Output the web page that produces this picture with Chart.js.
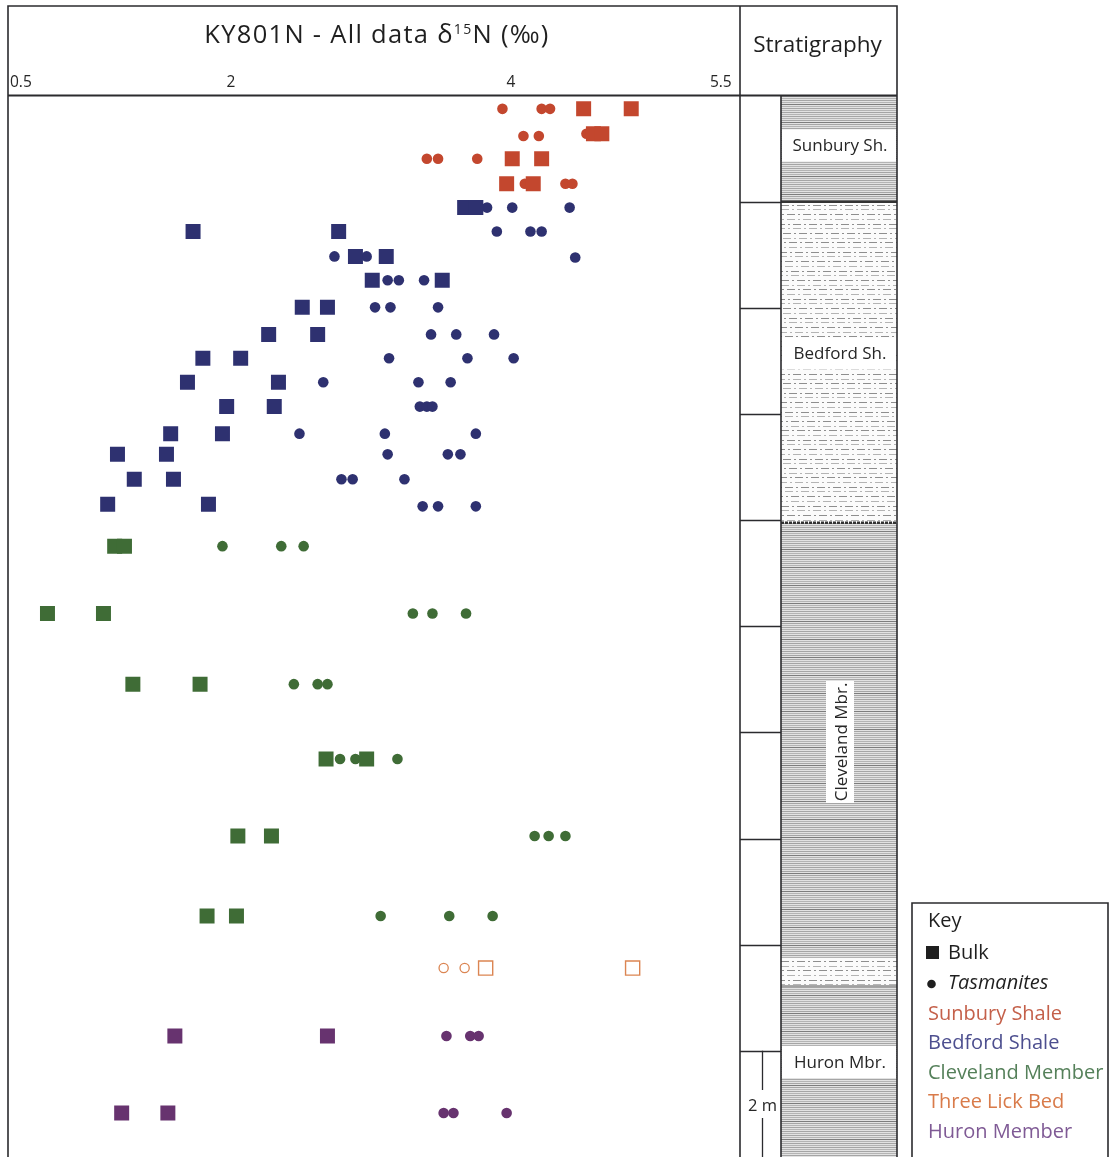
<!DOCTYPE html>
<html>
<head>
<meta charset="utf-8">
<title>KY801N - All data δ15N</title>
<script src="https://cdn.jsdelivr.net/npm/chart.js@4.4.1/dist/chart.umd.min.js"></script>
<style>
  html, body { margin: 0; padding: 0; background: #ffffff; }
  #wrap { position: relative; width: 1110px; height: 1157px; }
</style>
</head>
<body>
<div id="wrap"><canvas id="chart" width="1110" height="1157"></canvas></div>
<script>
// Core KY801N: δ15N (‰) of bulk rock and Tasmanites cysts against height in the section (m above base).
// Each pair is [δ15N ‰, height m].
const xTickValues = [0.5, 2, 4, 5.5];

const sunburyBulk = [[4.52, 19.75], [4.86, 19.75], [4.59, 19.28], [4.65, 19.28], [4.01, 18.81], [4.22, 18.81], [3.97, 18.34], [4.16, 18.34]];
const sunburyTasmanites = [[3.94, 19.75], [4.22, 19.75], [4.28, 19.75], [4.09, 19.24], [4.20, 19.24], [4.54, 19.28],
  [3.40, 18.81], [3.48, 18.81], [3.76, 18.81], [4.10, 18.34], [4.39, 18.34], [4.44, 18.34]];

const bedfordBulk = [[3.67, 17.89], [3.75, 17.89], [1.73, 17.44], [2.77, 17.44], [2.89, 16.97], [3.11, 16.97],
  [3.01, 16.52], [3.51, 16.52], [2.51, 16.01], [2.69, 16.01], [2.27, 15.50], [2.62, 15.50], [1.80, 15.05], [2.07, 15.05],
  [1.69, 14.60], [2.34, 14.60], [1.97, 14.14], [2.31, 14.14], [1.57, 13.63], [1.94, 13.63], [1.19, 13.24], [1.54, 13.24],
  [1.31, 12.77], [1.59, 12.77], [1.12, 12.30], [1.84, 12.30]];
const bedfordTasmanites = [[3.83, 17.89], [4.01, 17.89], [4.42, 17.89], [3.90, 17.44], [4.14, 17.44], [4.22, 17.44],
  [2.74, 16.97], [2.97, 16.97], [4.46, 16.95], [3.12, 16.52], [3.20, 16.52], [3.38, 16.52], [3.03, 16.01], [3.14, 16.01],
  [3.48, 16.01], [3.43, 15.50], [3.61, 15.50], [3.88, 15.50], [3.13, 15.05], [3.69, 15.05], [4.02, 15.05], [2.66, 14.60],
  [3.34, 14.60], [3.57, 14.60], [3.35, 14.14], [3.40, 14.14], [3.44, 14.14], [2.49, 13.63], [3.10, 13.63], [3.75, 13.63],
  [3.12, 13.24], [3.55, 13.24], [3.64, 13.24], [2.79, 12.77], [2.87, 12.77], [3.24, 12.77], [3.37, 12.26], [3.48, 12.26],
  [3.75, 12.26]];

const clevelandBulk = [[1.17, 11.51], [1.24, 11.51], [0.69, 10.24], [1.09, 10.24], [1.30, 8.91], [1.78, 8.91],
  [2.68, 7.50], [2.97, 7.50], [2.05, 6.05], [2.29, 6.05], [1.83, 4.54], [2.04, 4.54]];
const clevelandTasmanites = [[1.94, 11.51], [2.36, 11.51], [2.52, 11.51], [3.30, 10.24], [3.44, 10.24], [3.68, 10.24],
  [2.45, 8.91], [2.62, 8.91], [2.69, 8.91], [2.78, 7.50], [2.89, 7.50], [3.19, 7.50], [4.17, 6.05], [4.27, 6.05],
  [4.39, 6.05], [3.07, 4.54], [3.56, 4.54], [3.87, 4.54]];

const threeLickBulk = [[3.82, 3.56], [4.87, 3.56]];
const threeLickTasmanites = [[3.52, 3.56], [3.67, 3.56]];

const huronBulk = [[1.60, 2.28], [2.69, 2.28], [1.22, 0.83], [1.55, 0.83]];
const huronTasmanites = [[3.54, 2.28], [3.71, 2.28], [3.77, 2.28], [3.52, 0.83], [3.59, 0.83], [3.97, 0.83]];

// Stratigraphic units: name, top and base height (m)
const unitNames = ['Sunbury Sh.', 'Bedford Sh.', 'Cleveland Mbr.', 'Three Lick Bed', 'Huron Mbr.'];
const unitTops = [20, 18.0, 11.95, 3.75, 3.22];
const unitBases = [18.0, 11.95, 3.75, 3.22, 0];
const legendUnits = ['Sunbury Shale', 'Bedford Shale', 'Cleveland Member', 'Three Lick Bed', 'Huron Member'];

// ---- styling ----
const FONT = '"Open Sans", "Noto Sans", sans-serif';
const INK = '#2b2b2e';
const colors = {
  sunbury: '#c3472e',
  bedford: '#2e3170',
  cleveland: '#3f6c36',
  threeLick: '#db8552',
  huron: '#67336f'
};
const legendTextColors = ['#c4604a', '#4d4f8f', '#55805a', '#d97b4a', '#7f5a95'];

const toPoints = arr => arr.map(([x, y]) => ({ x, y }));

function bulkSet(label, data, color) {
  return { label, data: toPoints(data), pointStyle: 'rect', pointRadius: 10.6, pointHoverRadius: 10.6,
    backgroundColor: color, borderColor: color, pointBorderWidth: 0, showLine: false };
}
function tasSet(label, data, color) {
  return { label, data: toPoints(data), pointStyle: 'circle', pointRadius: 5.3, pointHoverRadius: 5.3,
    backgroundColor: color, borderColor: color, pointBorderWidth: 0, showLine: false };
}

const datasets = [
  bulkSet('Sunbury bulk', sunburyBulk, colors.sunbury),
  tasSet('Sunbury Tasmanites', sunburyTasmanites, colors.sunbury),
  bulkSet('Bedford bulk', bedfordBulk, colors.bedford),
  tasSet('Bedford Tasmanites', bedfordTasmanites, colors.bedford),
  bulkSet('Cleveland bulk', clevelandBulk, colors.cleveland),
  tasSet('Cleveland Tasmanites', clevelandTasmanites, colors.cleveland),
  { label: 'Three Lick bulk', data: toPoints(threeLickBulk), pointStyle: 'rect', pointRadius: 10,
    backgroundColor: 'rgba(255,255,255,0)', borderColor: colors.threeLick, pointBorderWidth: 1.4, showLine: false },
  { label: 'Three Lick Tasmanites', data: toPoints(threeLickTasmanites), pointStyle: 'circle', pointRadius: 4.6,
    backgroundColor: 'rgba(255,255,255,0)', borderColor: colors.threeLick, pointBorderWidth: 1.3, showLine: false },
  bulkSet('Huron bulk', huronBulk, colors.huron),
  tasSet('Huron Tasmanites', huronTasmanites, colors.huron)
];

// ---- lithology fills ----
function hLine(ctx, x0, x1, y) {
  ctx.beginPath(); ctx.moveTo(x0, y); ctx.lineTo(x1, y); ctx.stroke();
}
function drawShale(ctx, x0, x1, y0, y1) {
  ctx.save();
  ctx.beginPath(); ctx.rect(x0, y0, x1 - x0, y1 - y0); ctx.clip();
  ctx.fillStyle = '#e2e2e2';
  ctx.fillRect(x0, y0, x1 - x0, y1 - y0);
  ctx.lineWidth = 1;
  let i = 0;
  for (let y = Math.floor(y0) + 1.5; y < y1; y += 2, i++) {
    ctx.strokeStyle = (i % 9 === 4) ? '#7d7d7d' : (i % 2 ? '#b4b4b4' : '#a5a5a5');
    hLine(ctx, x0, x1, y);
  }
  ctx.restore();
}
function drawSilt(ctx, x0, x1, y0, y1) {
  ctx.save();
  ctx.beginPath(); ctx.rect(x0, y0, x1 - x0, y1 - y0); ctx.clip();
  ctx.fillStyle = '#fbfbfb';
  ctx.fillRect(x0, y0, x1 - x0, y1 - y0);
  ctx.lineWidth = 1;
  let i = 0;
  for (let y = y0 + 3; y < y1; y += 4.7, i++) {
    ctx.strokeStyle = i % 2 ? '#b4b4b4' : '#8e8e8e';
    ctx.setLineDash(i % 2 ? [2, 3, 8, 3] : [8, 3, 2, 3]);
    ctx.lineDashOffset = (i * 5) % 16;
    hLine(ctx, x0, x1, Math.round(y) + 0.5);
  }
  ctx.setLineDash([]);
  ctx.restore();
}

// ---- frame, title, stratigraphic column and key ----
const decorations = {
  id: 'decorations',
  afterDraw(chart) {
    const ctx = chart.ctx;
    const area = chart.chartArea;
    const ys = chart.scales.y;
    const yp = v => ys.getPixelForValue(v);
    const L = area.left, R = area.right, T = area.top, B = chart.height;
    const top = 6;
    const colMid = R + 41, colR = R + 157;

    ctx.save();

    // lithology column
    const lith = ['shale', 'silt', 'shale', 'silt', 'shale'];
    unitNames.forEach((name, i) => {
      const y0 = yp(unitTops[i]);
      const y1 = i === unitNames.length - 1 ? B + 2 : yp(unitBases[i]);
      if (lith[i] === 'shale') drawShale(ctx, colMid, colR, y0, y1);
      else drawSilt(ctx, colMid, colR, y0, y1);
    });
    // thicker contacts
    ctx.strokeStyle = '#333';
    ctx.lineWidth = 2.5;
    hLine(ctx, colMid, colR, yp(unitBases[0]));
    ctx.setLineDash([3, 1]);
    hLine(ctx, colMid, colR, yp(unitBases[1]));
    ctx.setLineDash([]);
    ctx.lineWidth = 1.5;
    ctx.strokeStyle = '#8a8a8a';
    hLine(ctx, colMid, colR, yp(unitBases[3]));

    // unit labels on white bands
    ctx.font = '17px ' + FONT;
    ctx.textAlign = 'center';
    ctx.textBaseline = 'middle';
    const cx = (colMid + colR) / 2 + 1;
    const bandLabels = [[0, 19.06], [1, 15.14], [4, 1.79]];
    bandLabels.forEach(([i, h]) => {
      const y = yp(h);
      ctx.fillStyle = '#ffffff';
      ctx.fillRect(colMid + 1, y - 16, colR - colMid - 2, 32);
      ctx.fillStyle = '#262626';
      ctx.fillText(unitNames[i], cx, y + 1);
    });
    // Cleveland label, rotated
    {
      const y = yp(7.82);
      ctx.fillStyle = '#ffffff';
      ctx.fillRect(cx - 14, y - 61, 28, 122);
      ctx.save();
      ctx.translate(cx + 1, y);
      ctx.rotate(-Math.PI / 2);
      ctx.fillStyle = '#262626';
      ctx.fillText(unitNames[2], 0, 1);
      ctx.restore();
    }

    // height ticks every 2 m in the scale column
    ctx.strokeStyle = INK;
    ctx.lineWidth = 1.6;
    for (let h = 2; h <= 18; h += 2) hLine(ctx, R, colMid, Math.round(yp(h)) + 0.5);
    // 2 m scale bar
    const sx = R + 22.5;
    ctx.lineWidth = 1.3;
    ctx.beginPath();
    ctx.moveTo(sx, yp(2)); ctx.lineTo(sx, yp(1) - 14);
    ctx.moveTo(sx, yp(1) + 14); ctx.lineTo(sx, yp(0) + 5);
    ctx.stroke();
    ctx.fillStyle = '#262626';
    ctx.font = '16.5px ' + FONT;
    ctx.fillText('2 m', sx, yp(1) + 2);

    // frame lines
    ctx.strokeStyle = INK;
    ctx.lineWidth = 1.6;
    ctx.beginPath();
    ctx.moveTo(L, B + 2); ctx.lineTo(L, top); ctx.lineTo(colR, top); ctx.lineTo(colR, B + 2);
    ctx.moveTo(R, top); ctx.lineTo(R, B + 2);
    ctx.moveTo(colMid, T); ctx.lineTo(colMid, B + 2);
    ctx.stroke();
    ctx.lineWidth = 2;
    hLine(ctx, L, colR, T);

    // title with superscript
    ctx.fillStyle = '#1f1f1f';
    ctx.textAlign = 'left';
    ctx.textBaseline = 'alphabetic';
    ctx.letterSpacing = '1.3px';
    const big = '25.5px ' + FONT, small = '14px ' + FONT;
    const p1 = 'KY801N - All data δ', p2 = '15', p3 = 'N (‰)';
    ctx.font = big; const w1 = ctx.measureText(p1).width, w3 = ctx.measureText(p3).width;
    ctx.font = small; const w2 = ctx.measureText(p2).width;
    let tx = 377 - (w1 + w2 + w3) / 2;
    const tb = 43;
    ctx.font = big; ctx.fillText(p1, tx, tb); tx += w1;
    ctx.font = small; ctx.fillText(p2, tx, tb - 9); tx += w2;
    ctx.font = big; ctx.fillText(p3, tx, tb);
    ctx.letterSpacing = '0px';

    // column header
    ctx.textAlign = 'center';
    ctx.font = '22.5px ' + FONT;
    ctx.fillText('Stratigraphy', (R + colR) / 2 - 1, 52);

    // key
    const kx = R + 172, kr = R + 368, ky = 903;
    ctx.strokeStyle = INK;
    ctx.lineWidth = 1.6;
    ctx.beginPath();
    ctx.moveTo(kx, B + 2); ctx.lineTo(kx, ky); ctx.lineTo(kr, ky); ctx.lineTo(kr, B + 2);
    ctx.stroke();
    ctx.textAlign = 'left';
    ctx.textBaseline = 'middle';
    ctx.font = '20px ' + FONT;
    ctx.fillStyle = '#1f1f1f';
    ctx.fillText('Key', kx + 16, ky + 18);
    ctx.fillRect(kx + 14, ky + 43, 13, 13);
    ctx.fillText('Bulk', kx + 36, ky + 50);
    ctx.beginPath(); ctx.arc(kx + 19.5, ky + 81, 4.3, 0, Math.PI * 2); ctx.fill();
    ctx.font = 'italic 20px ' + FONT;
    ctx.fillText('Tasmanites', kx + 36, ky + 80);
    ctx.font = '20px ' + FONT;
    legendUnits.forEach((t, i) => {
      ctx.fillStyle = legendTextColors[i];
      ctx.fillText(t, kx + 16, ky + 111 + i * 29.5);
    });

    ctx.restore();
  }
};

new Chart(document.getElementById('chart'), {
  type: 'scatter',
  data: { datasets },
  options: {
    responsive: false,
    animation: false,
    events: [],
    layout: { autoPadding: false, padding: { left: 8, right: 370, top: 69, bottom: 0 } },
    plugins: { legend: { display: false }, tooltip: { enabled: false }, title: { display: false } },
    scales: {
      x: {
        type: 'linear',
        position: 'top',
        min: 0.408,
        max: 5.637,
        afterBuildTicks: scale => { scale.ticks = xTickValues.map(v => ({ value: v })); },
        afterFit: scale => { scale.paddingLeft = 0; scale.paddingRight = 0; },
        ticks: {
          autoSkip: false,
          maxRotation: 0,
          padding: 4,
          color: '#262626',
          font: { family: FONT, size: 15.5 },
          callback: v => String(v)
        },
        grid: { display: false, drawTicks: false },
        border: { display: false }
      },
      y: { type: 'linear', min: 0, max: 20, display: false }
    }
  },
  plugins: [decorations]
});
</script>
</body>
</html>
